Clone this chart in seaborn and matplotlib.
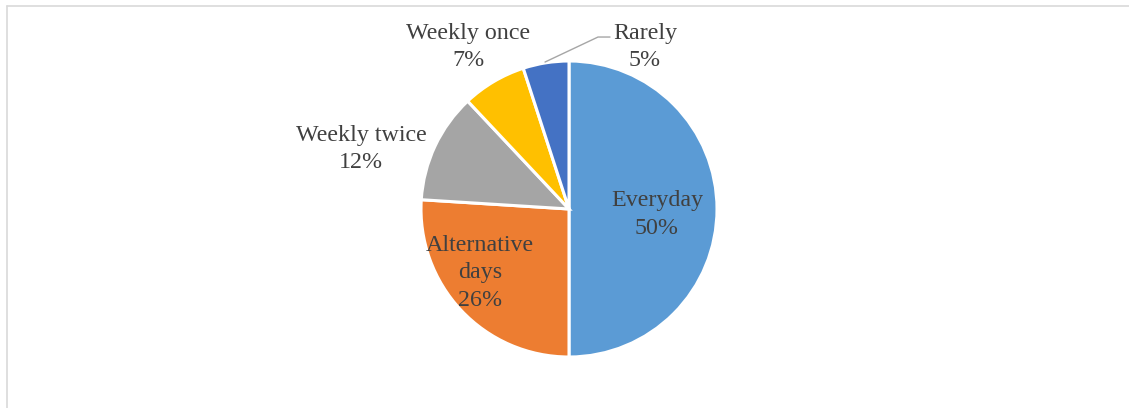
import matplotlib
matplotlib.use("Agg")
import matplotlib.pyplot as plt
from matplotlib.lines import Line2D
import seaborn as sns

# Frequency categories and their shares (percent)
categories = ["Everyday", "Alternative days", "Weekly twice", "Weekly once", "Rarely"]
shares = [50, 26, 12, 7, 5]
label_lines = ["Everyday", "Alternative\ndays", "Weekly twice", "Weekly once", "Rarely"]
colors = ["#5B9BD5", "#ED7D31", "#A5A5A5", "#FFC000", "#4472C4"]

sns.set_theme(style="white")
plt.rcParams["font.family"] = ["Liberation Serif", "DejaVu Serif"]

W, H = 1129, 408
fig = plt.figure(figsize=(W / 100, H / 100), dpi=100)
ax = fig.add_axes([0, 0, 1, 1])

# pie centre in pixels and radius -> data units of 1 radius
cx, cy, r = 569, 209, 148

wedges, _ = ax.pie(
    shares, colors=colors, startangle=90, counterclock=False, radius=1.0,
    wedgeprops=dict(edgecolor="white", linewidth=2.2), frame=True,
)
ax.set_xlim(-cx / r, (W - cx) / r)
ax.set_ylim(-(H - cy) / r, cy / r)
ax.set_aspect("auto")
ax.axis("off")

text_color = "#404040"
label_pos = [(0.595, -0.037), (-0.60, -0.43), (-1.405, 0.405), (-0.682, 1.093), (0.514, 1.093)]
for name, val, (x, y) in zip(label_lines, shares, label_pos):
    ax.text(x, y, f"{name}\n{val}%", ha="center", va="center",
            fontsize=17.3, color=text_color, linespacing=1.4)

# leader line for the smallest slice
ax.add_line(Line2D([-0.162, 0.196, 0.277], [0.993, 1.162, 1.162],
                   color="#A6A6A6", linewidth=1.0))

# chart-area border (top and left edges visible)
fig.add_artist(Line2D([7 / W, 7 / W], [0, 1 - 5.5 / H], transform=fig.transFigure,
                      color="#D9D9D9", linewidth=1.2))
fig.add_artist(Line2D([7 / W, 1], [1 - 5.5 / H, 1 - 5.5 / H], transform=fig.transFigure,
                      color="#D9D9D9", linewidth=1.2))

fig.savefig("out.png", dpi=100, facecolor="white")
